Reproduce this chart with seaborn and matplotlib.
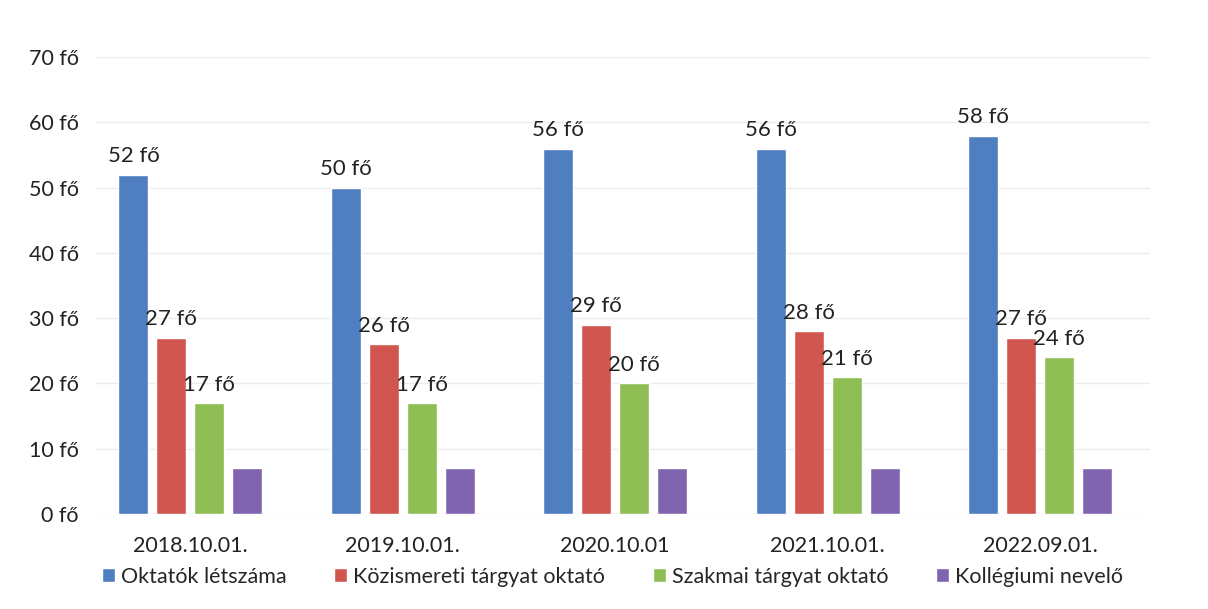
import numpy as np
import pandas as pd
import matplotlib.pyplot as plt
import seaborn as sns

# Adatok
datumok = ['2018.10.01.', '2019.10.01.', '2020.10.01', '2021.10.01.', '2022.09.01.']
sorozatok = ['Oktatók létszáma', 'Közismereti tárgyat oktató',
             'Szakmai tárgyat oktató', 'Kollégiumi nevelő']
oktatok = [52, 50, 56, 56, 58]
kozismereti = [27, 26, 29, 28, 27]
szakmai = [17, 17, 20, 21, 24]
kollegiumi = [7, 7, 7, 7, 7]
yticks = [0, 10, 20, 30, 40, 50, 60, 70]

df = pd.DataFrame({'Datum': datumok * 4,
                   'Sorozat': np.repeat(sorozatok, len(datumok)),
                   'Fo': oktatok + kozismereti + szakmai + kollegiumi})

szinek = ['#4F7FC0', '#D0564F', '#8EBE54', '#8064B0']

sns.set_theme(style='white')
plt.rcParams['font.family'] = ['Lato', 'DejaVu Sans']

fig = plt.figure(figsize=(12.08, 6.09), dpi=100)
ax = fig.add_axes([0.079, 0.156, 0.873, 0.75])

sns.barplot(data=df, x='Datum', y='Fo', hue='Sorozat', palette=szinek,
            saturation=1, width=0.715, gap=0.21, ax=ax, legend=True)

# Címkék az első három sorozatra
for cont in ax.containers[:3]:
    ax.bar_label(cont, fmt='{:.0f} fő', padding=6, fontsize=16, color='#222222')

ax.set_ylim(0, 70)
ax.set_xlim(-0.447, 4.518)
ax.set_yticks(yticks)
ax.set_yticklabels([f'{v} fő' for v in yticks])
ax.yaxis.grid(True, color='#ececec', linewidth=1)
ax.set_axisbelow(True)
for s in ax.spines.values():
    s.set_visible(False)
ax.tick_params(axis='both', length=0, labelsize=15.5, colors='#222222')
ax.tick_params(axis='y', pad=12)
ax.tick_params(axis='x', pad=16)
ax.set_xlabel('')
ax.set_ylabel('')

handles, labels = ax.get_legend_handles_labels()
ax.get_legend().remove()
fig.legend(handles, labels, loc='center', bbox_to_anchor=(0.507, 0.053),
           ncol=4, frameon=False, fontsize=15.5, handlelength=0.6, handleheight=0.6,
           handletextpad=0.3, columnspacing=2.2)

plt.savefig('out.png', dpi=100)
